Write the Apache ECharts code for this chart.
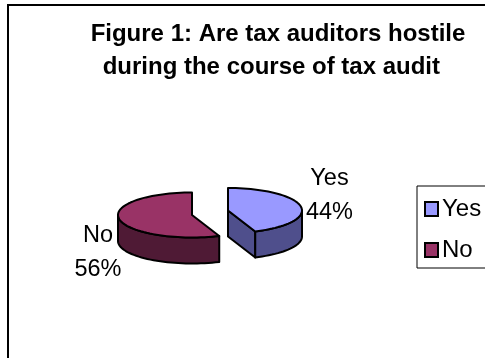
<!DOCTYPE html>
<html>
<head>
<meta charset="utf-8">
<style>html,body{margin:0;padding:0;background:#fff}#chart{width:485px;height:358px}</style>
<script src="https://cdn.jsdelivr.net/npm/echarts@6/dist/echarts.min.js"></script>
</head>
<body>
<div id="chart"></div>
<script>
// Survey answers, in percent
var categories = ['Yes', 'No'];
var shares = [44, 56];
var topColors = ['#9999FF', '#993366'];
var sideColors = ['#4F4F8C', '#4F1A35'];
var titleText = 'Figure 1: Are tax auditors hostile\nduring the course of tax audit\u00a0\u00a0';

// Projection of the tilted, exploded pie
var RX = 74, RY = 22.5, DEPTH = 26;
var hubs = [[228, 210.5], [192, 215]];
var labelSpots = [[329.5, 196], [98, 253]];
var total = shares.reduce(function (a, b) { return a + b; }, 0);

function rimPoint(hub, deg, drop) {
  var r = deg * Math.PI / 180;
  return [hub[0] + RX * Math.sin(r), hub[1] - RY * Math.cos(r) + drop];
}
function arcPoints(hub, from, to, drop) {
  var pts = [], n = Math.max(2, Math.ceil(Math.abs(to - from) / 3));
  for (var i = 0; i <= n; i++) pts.push(rimPoint(hub, from + (to - from) * i / n, drop));
  return pts;
}

function renderSlice(index) {
  return function (params, api) {
    var share = api.value(0);
    var before = 0;
    for (var k = 0; k < index; k++) before += shares[k];
    var a0 = before / total * 360, a1 = (before + share) / total * 360;
    var hub = hubs[index];
    var edge = { stroke: '#000', lineWidth: 2, lineJoin: 'round' };
    var children = [];

    // Cut wall of the first slice, which faces the viewer
    if (index === 0) {
      var rim = rimPoint(hub, a1, 0);
      children.push({ type: 'polygon', shape: { points: [
        hub, rim, [rim[0], rim[1] + DEPTH], [hub[0], hub[1] + DEPTH]
      ] }, style: Object.assign({ fill: sideColors[index] }, edge) });
    }

    // Outer wall: the part of the rim on the near half of the ellipse
    var w0 = Math.max(a0, 90), w1 = Math.min(a1, 270);
    var top = arcPoints(hub, w0, w1, 0);
    var bottom = arcPoints(hub, w0, w1, DEPTH).reverse();
    children.push({ type: 'polygon', shape: { points: top.concat(bottom) },
      style: Object.assign({ fill: sideColors[index] }, edge) });

    // Top face
    children.push({ type: 'polygon', shape: { points: [hub].concat(arcPoints(hub, a0, a1, 0)) },
      style: Object.assign({ fill: topColors[index] }, edge) });

    children.push({ type: 'text', style: {
      x: labelSpots[index][0], y: labelSpots[index][1],
      text: categories[index] + '\n' + share + '%',
      align: 'center', verticalAlign: 'middle',
      font: '23.5px "Liberation Sans", Arial, sans-serif', lineHeight: 34, fill: '#000'
    } });
    return { type: 'group', children: children };
  };
}

var chart = echarts.init(document.getElementById('chart'), null, { renderer: 'canvas' });
chart.setOption({
  animation: false,
  backgroundColor: '#fff',
  title: {
    text: titleText, left: 273, top: 13, textAlign: 'center',
    textStyle: { fontFamily: '"Liberation Sans", Arial, sans-serif', fontWeight: 'bold', fontSize: 24, lineHeight: 33, color: '#000' }
  },
  legend: {
    left: 417, top: 186, orient: 'vertical', icon: 'rect',
    itemWidth: 13, itemHeight: 14, itemGap: 17,
    padding: [11, 30, 6, 7],
    borderColor: '#000', borderWidth: 1,
    data: categories,
    textStyle: { fontFamily: '"Liberation Sans", Arial, sans-serif', fontSize: 24, color: '#000', padding: [0, 0, 0, -1] }
  },
  graphic: [{
    type: 'polyline', silent: true,
    shape: { points: [[8, 358], [8, 5], [485, 5]] },
    style: { stroke: '#000', lineWidth: 2, fill: null }
  }],
  series: categories.map(function (name, i) {
    return {
      type: 'custom', name: name, coordinateSystem: 'none',
      data: [[shares[i]]],
      itemStyle: { color: topColors[i], borderColor: '#000', borderWidth: 2 },
      renderItem: renderSlice(i)
    };
  })
});
</script>
</body>
</html>
